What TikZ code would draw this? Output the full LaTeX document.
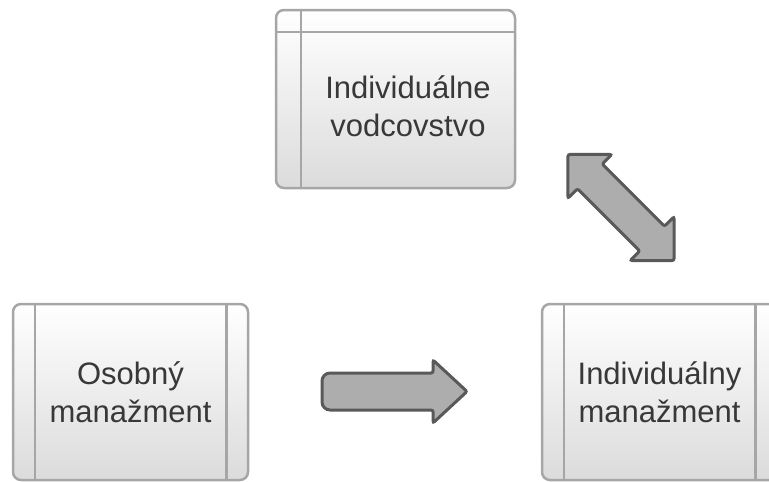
\documentclass[tikz,border=0pt]{standalone}
\usepackage{fontspec}
\setmainfont{Liberation Sans}
\usepackage{tikz}
\usetikzlibrary{positioning}
\tikzset{
  panel/.style={rectangle,rounded corners=8pt,draw=black!35,line width=2.5pt,
    top color=white,bottom color=black!14,minimum width=235pt,minimum height=176pt,
    inner sep=0pt,align=center,text=black!78,font=\fontsize{31}{38}\selectfont},
  panelline/.style={draw=black!35,line width=2.5pt},
  caption/.style={align=center,text=black!78,font=\fontsize{31}{38}\selectfont},
  blockarrow/.style={draw=black!65,fill=black!32,line width=3pt,rounded corners=2pt},
}
\begin{document}
\begin{tikzpicture}[x=1pt,y=-1pt]
  \clip (0,0) rectangle (769,482);

  % boxes
  \node[panel,minimum width=239pt,minimum height=178pt] (IV) at (395.5,99) {};
  \node[caption] (IVtext) at (408,106) {Individuálne\\vodcovstvo};
  \node[panel] (OM) at (130.5,392) {Osobný\\manažment};
  \node[panel] (IM) at (659.5,392) {Individuálny\\manažment};

  % inner lines
  \draw[panelline] ([xshift=26pt]IV.north west) -- ([xshift=26pt]IV.south west);
  \draw[panelline] ([yshift=-23pt]IV.north west) -- ([yshift=-23pt]IV.north east);
  \draw[panelline] ([xshift=23pt]OM.north west) -- ([xshift=23pt]OM.south west);
  \draw[panelline] ([xshift=-23pt]OM.north east) -- ([xshift=-23pt]OM.south east);
  \draw[panelline] ([xshift=23pt]IM.north west) -- ([xshift=23pt]IM.south west);
  \draw[panelline] ([xshift=-23pt]IM.north east) -- ([xshift=-23pt]IM.south east);

  % arrows
  \coordinate (r1) at (394.5,391.5);
  \coordinate (r2) at (621,207.5);
  \draw[blockarrow,shift={(r1)}] (-72.5,0) [rounded corners=8pt] -- (-72.5,-18.5)
    [rounded corners=2pt] -- (38.5,-18.5) -- (38.5,-31.5) -- (72.5,0) -- (38.5,31.5)
    -- (38.5,18.5) [rounded corners=8pt] -- (-72.5,18.5) -- cycle;
  \draw[blockarrow,shift={(r2)},rotate=-45] (-75,0) -- (-44,-31) -- (-44,-17.5)
    -- (44,-17.5) -- (44,-31) -- (75,0) -- (44,31) -- (44,17.5) -- (-44,17.5)
    -- (-44,31) -- cycle;
\end{tikzpicture}
\end{document}
